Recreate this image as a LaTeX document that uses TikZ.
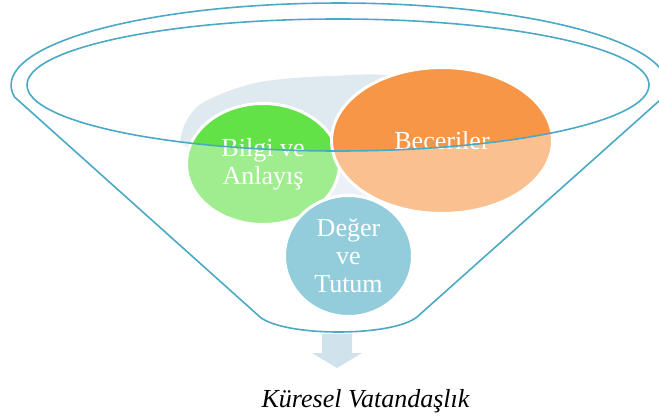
\documentclass[tikz,border=0pt]{standalone}
\usepackage{fontspec}
\setmainfont{Liberation Serif}
\usetikzlibrary{shapes.geometric}
\definecolor{rim}{HTML}{4AA9C5}
\definecolor{greenc}{HTML}{62E247}
\definecolor{orangec}{HTML}{F79646}
\definecolor{bluec}{HTML}{4BACC6}
\definecolor{lightc}{HTML}{DFE9F0}
\definecolor{arrowc}{HTML}{D0E2EB}
\begin{document}
\begin{tikzpicture}[x=1pt,y=-1pt,
  blob/.style={ellipse, draw=white, line width=3pt, inner sep=0pt, text=white,
    font=\fontsize{26}{28}\selectfont, align=center},
  rimline/.style={draw=rim, line width=1.6pt}]
\useasboundingbox (0,0) rectangle (659,420);
% light background band
\fill[lightc] plot[smooth cycle] coordinates {(181,142) (198,106) (255,83) (330,76) (400,78) (440,120) (420,185) (348,200) (285,180) (215,158)};
% circles
\node[blob, fill=greenc, minimum width=153pt, minimum height=121pt] (bilgi) at (263,164) {Bilgi ve\\Anlayış};
\node[blob, fill=orangec, minimum width=221pt, minimum height=146pt] (bec) at (442,140.5) {Beceriler};
\node[blob, fill=bluec, minimum width=128pt, minimum height=121pt] (deger) at (348.5,256) {Değer\\ve\\Tutum};
% translucent funnel body
\fill[white, fill opacity=0.4, even odd rule]
  (14.5,97) -- (260,317) .. controls (285,337) and (392,337) .. (417,317) -- (663.5,97)
  arc[start angle=-8.4, end angle=188.4, x radius=328pt, y radius=82pt] -- cycle
  (338,85) ellipse [x radius=311pt, y radius=66pt];
% funnel outline
\draw[rimline, line join=round]
  (14.5,97) -- (260,317) .. controls (285,337) and (392,337) .. (417,317) -- (663.5,97)
  arc[start angle=-8.4, end angle=188.4, x radius=328pt, y radius=82pt] -- cycle;
\draw[rimline] (338,85) ellipse [x radius=311pt, y radius=66pt];
% arrow
\fill[arrowc] (322,334) -- (352,334) -- (352,353) -- (362,353) -- (337,368) -- (312,353) -- (322,353) -- cycle;
\node[font=\itshape\fontsize{26}{28}\selectfont, anchor=base, inner sep=0pt] (kv) at (365.5,407) {Küresel Vatandaşlık};
\end{tikzpicture}
\end{document}
